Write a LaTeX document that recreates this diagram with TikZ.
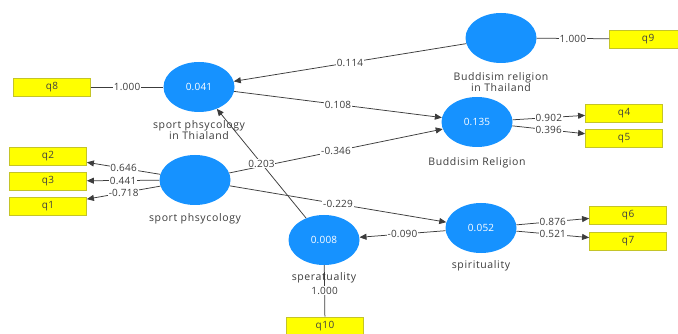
\documentclass[tikz,border=0pt]{standalone}
\usepackage{fontspec}
\setmainfont{Open Sans}
\newfontfamily\namefont[LetterSpace=6]{Open Sans}
\newfontfamily\coeffont[LetterSpace=2]{Open Sans}
\usetikzlibrary{arrows.meta,shapes.geometric}
\definecolor{lvfill}{RGB}{22,146,255}
\definecolor{mvfill}{RGB}{255,255,0}
\definecolor{mvdraw}{RGB}{196,196,40}
\definecolor{linec}{RGB}{60,60,60}
\definecolor{textc}{RGB}{60,60,60}
\begin{document}
\begin{tikzpicture}[x=1pt,y=-1pt,
  lv/.style={ellipse, fill=lvfill, minimum width=71pt, minimum height=50pt, inner sep=0pt, text=white, font=\coeffont\fontsize{10}{11}\selectfont},
  lvname/.style={align=center, text=textc, font=\namefont\fontsize{10.5}{12}\selectfont, inner sep=0pt},
  mv/.style={rectangle, fill=mvfill, draw=mvdraw, line width=0.8pt, minimum width=77pt, minimum height=18pt, inner sep=0pt, text=black!75, font=\namefont\fontsize{10}{11}\selectfont},
  rel/.style={draw=linec, line width=0.75pt},
  arr/.style={rel, -{Triangle[length=7pt,width=6pt]}},
  coef/.style={fill=white, inner sep=0.8pt, text=textc, font=\coeffont\fontsize{10}{11}\selectfont, midway}
]
\useasboundingbox (0,0) rectangle (678,334);
\fill[white] (0,0) rectangle (678,334);
% latent variables
\node[lv] (spt) at (199,87) {0.041};
\node[lv] (brt) at (501,38) {};
\node[lv] (br)  at (477,122) {0.135};
\node[lv] (sp)  at (195,180) {};
\node[lv] (spi) at (481,228) {0.052};
\node[lv] (spe) at (324,240) {0.008};
% names
\node[lvname] (sptn) at (199,130) {sport phsycology\\[-1.5pt]in Thialand};
\node[lvname] (brtn) at (501,82) {Buddisim religion\\[-1.5pt]in Thailand};
\node[lvname] (brn)  at (477,163) {Buddisim Religion};
\node[lvname] (spn)  at (195,219) {sport phsycology};
\node[lvname] (spin) at (481,266) {spirituality};
\node[lvname] (spen) at (324,278) {speratuality};
% indicators
\node[mv] (q8)  at (52,87) {q8};
\node[mv] (q9)  at (648,39) {q9};
\node[mv] (q4)  at (624,113) {q4};
\node[mv] (q5)  at (624,138) {q5};
\node[mv] (q2)  at (48,156) {q2};
\node[mv] (q3)  at (48,181) {q3};
\node[mv] (q1)  at (48,206) {q1};
\node[mv] (q6)  at (628,215) {q6};
\node[mv] (q7)  at (628,241) {q7};
\node[mv] (q10) at (325,326) {q10};
% structural paths
\draw[arr] (brt) -- (spt) node[coef] (c1) {0.114};
\draw[arr] (spt) -- (br) node[coef] (c2) {0.108};
\draw[arr] (sp) -- (br) node[coef] (c3) {-0.346};
\draw[arr] (sp) -- (spi) node[coef] (c4) {-0.229};
\draw[arr] (spi) -- (spe) node[coef] (c5) {-0.090};
\draw[arr] (spe) -- (spt) node[coef] (c6) {0.203};
% measurement paths
\draw[rel] (q8) -- (spt) node[coef] (c7) {1.000};
\draw[rel] (brt) -- (q9) node[coef] (c8) {1.000};
\draw[rel] (spe) -- (q10) node[coef] (c9) {1.000};
\draw[arr] (br) -- (q4) node[coef] (c10) {0.902};
\draw[arr] (br) -- (q5) node[coef] (c11) {0.396};
\draw[arr] (sp) -- (q2) node[coef] (c12) {0.646};
\draw[arr] (sp) -- (q3) node[coef] (c13) {0.441};
\draw[arr] (sp) -- (q1) node[coef] (c14) {-0.718};
\draw[arr] (spi) -- (q6) node[coef] (c15) {0.876};
\draw[arr] (spi) -- (q7) node[coef] (c16) {0.521};
\end{tikzpicture}
\end{document}
